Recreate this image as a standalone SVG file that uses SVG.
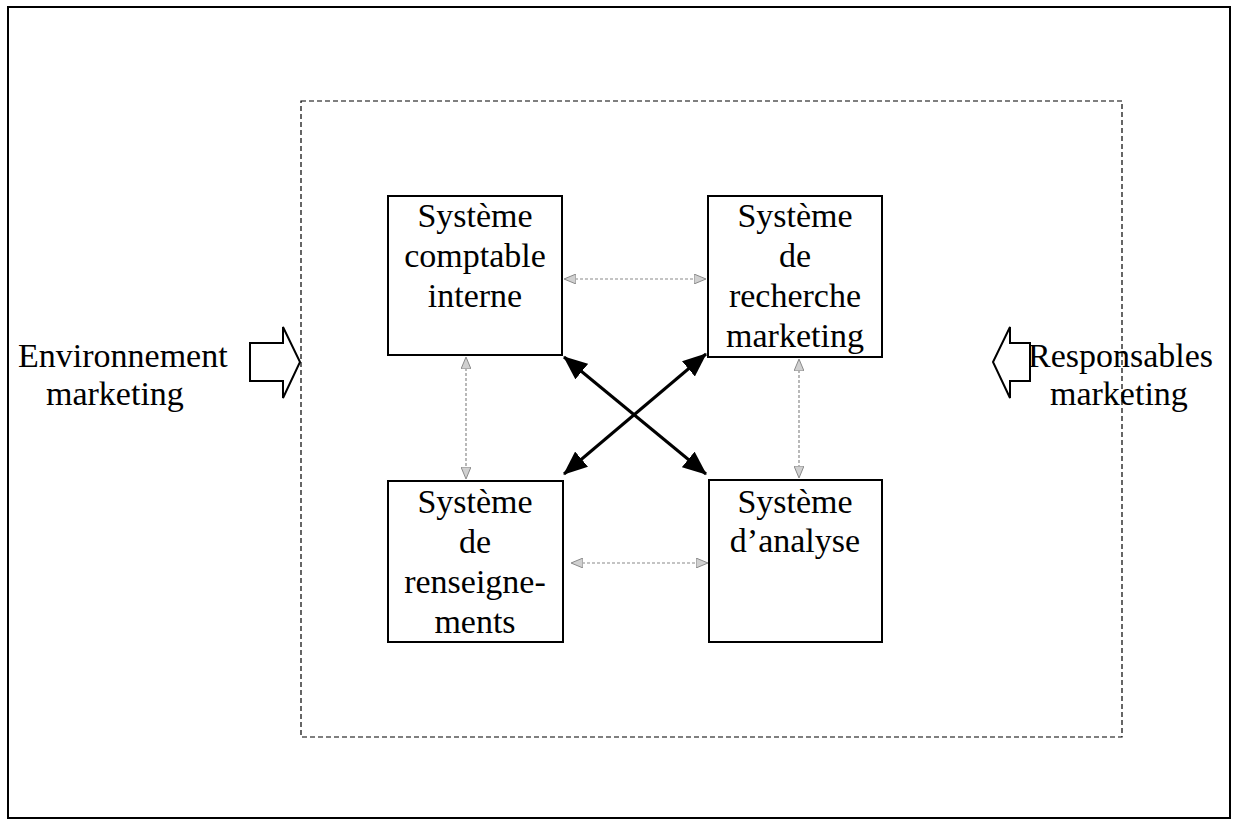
<svg xmlns="http://www.w3.org/2000/svg" width="1238" height="826" viewBox="0 0 1238 826">
  <style>
    .t { font-family: "Liberation Serif", "Times New Roman", serif; font-size: 34px; fill: #000; }
    .c { text-anchor: middle; }
    .box { fill: #fff; stroke: #000; stroke-width: 2; }
    .gray { stroke: #8a8a8a; stroke-width: 1.2; stroke-dasharray: 3 2; fill: none; }
    .bold { stroke: #000; stroke-width: 3; fill: none; }
    .blk { fill: #fff; stroke: #000; stroke-width: 2; }
  </style>
  <defs>
    <marker id="ga" viewBox="0 0 12 10" refX="11" refY="5" markerWidth="12" markerHeight="10" markerUnits="userSpaceOnUse" orient="auto-start-reverse">
      <path d="M0,0 L12,5 L0,10 Z" fill="#d0d0d0" stroke="#8a8a8a" stroke-width="1"/>
    </marker>
    <marker id="ba" viewBox="0 0 24 20" refX="23" refY="10" markerWidth="24" markerHeight="20" markerUnits="userSpaceOnUse" orient="auto-start-reverse">
      <path d="M0,0 L24,10 L0,20 Z" fill="#000"/>
    </marker>
  </defs>

  <rect x="8" y="7" width="1222" height="811" fill="#fff" stroke="#000" stroke-width="2"/>
  <rect x="301" y="101" width="821" height="636" fill="none" stroke="#000" stroke-width="1.2" stroke-dasharray="5 3"/>

  <g id="n-env">
    <text class="t" x="18" y="367">Environnement</text>
    <text class="t" x="46" y="405">marketing</text>
    <polygon class="blk" points="250,343 283,343 283,327 300,362 283,398 283,381 250,381"/>
  </g>
  <g id="n-resp">
    <text class="t" x="1028" y="367">Responsables</text>
    <text class="t" x="1050" y="405">marketing</text>
    <polygon class="blk" points="1030,343 1010,343 1010,327 993,362 1010,398 1010,381 1030,381"/>
  </g>

  <g id="n-compta">
    <rect class="box" x="388" y="196" width="174" height="159"/>
    <text class="t c" x="475" y="227">Système</text>
    <text class="t c" x="475" y="267">comptable</text>
    <text class="t c" x="475" y="307">interne</text>
  </g>
  <g id="n-recherche">
    <rect class="box" x="708" y="196" width="174" height="161"/>
    <text class="t c" x="795" y="227">Système</text>
    <text class="t c" x="795" y="267">de</text>
    <text class="t c" x="795" y="307">recherche</text>
    <text class="t c" x="795" y="347">marketing</text>
  </g>
  <g id="n-renseignements">
    <rect class="box" x="388" y="481" width="175" height="161"/>
    <text class="t c" x="475" y="513">Système</text>
    <text class="t c" x="475" y="553">de</text>
    <text class="t c" x="475" y="593">renseigne-</text>
    <text class="t c" x="475" y="633">ments</text>
  </g>
  <g id="n-analyse">
    <rect class="box" x="709" y="480" width="173" height="162"/>
    <text class="t c" x="795" y="513">Système</text>
    <text class="t c" x="795" y="552">d’analyse</text>
  </g>

  <g id="connectors">
    <line class="gray" x1="565" y1="279" x2="705" y2="279" marker-start="url(#ga)" marker-end="url(#ga)"/>
    <line class="gray" x1="466" y1="358" x2="466" y2="478" marker-start="url(#ga)" marker-end="url(#ga)"/>
    <line class="gray" x1="799" y1="360" x2="799" y2="477" marker-start="url(#ga)" marker-end="url(#ga)"/>
    <line class="gray" x1="572" y1="563" x2="707" y2="563" marker-start="url(#ga)" marker-end="url(#ga)"/>
    <line class="bold" x1="564" y1="357" x2="706" y2="474" marker-start="url(#ba)" marker-end="url(#ba)"/>
    <line class="bold" x1="706" y1="354" x2="564" y2="474" marker-start="url(#ba)" marker-end="url(#ba)"/>
  </g>
</svg>
